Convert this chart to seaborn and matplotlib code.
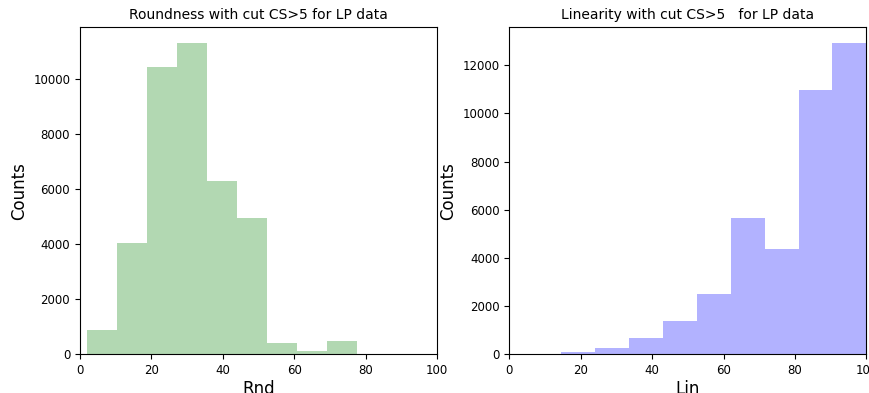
import numpy as np
import pandas as pd
import matplotlib
matplotlib.use("Agg")
import matplotlib.pyplot as plt
import seaborn as sns

# Roundness histogram: bin edges and counts
rnd_edges = [2.0, 10.4, 18.8, 27.2, 35.6, 44.0, 52.4, 60.8, 69.2, 77.6, 86.0]
rnd_counts = [860, 4020, 10440, 11310, 6280, 4960, 410, 110, 470, 20]

# Linearity histogram: bin edges and counts
lin_edges = [5.0, 14.5, 24.0, 33.5, 43.0, 52.5, 62.0, 71.5, 81.0, 90.5, 100.0]
lin_counts = [10, 85, 250, 650, 1390, 2500, 5660, 4370, 10960, 12940]

x_ticks = [0, 20, 40, 60, 80, 100]


def centers(edges):
    e = np.asarray(edges)
    return (e[:-1] + e[1:]) / 2


rnd_df = pd.DataFrame({"Rnd": centers(rnd_edges), "w": rnd_counts})
lin_df = pd.DataFrame({"Lin": centers(lin_edges), "w": lin_counts})

fig = plt.figure(figsize=(8.69, 3.93), dpi=100)
ax1 = fig.add_axes([0.092, 0.099, 0.411, 0.832])
ax2 = fig.add_axes([0.586, 0.099, 0.411, 0.832])

sns.histplot(data=rnd_df, x="Rnd", weights="w", bins=rnd_edges, ax=ax1,
             color="g", alpha=0.3, linewidth=0, element="bars")
sns.histplot(data=lin_df, x="Lin", weights="w", bins=lin_edges, ax=ax2,
             color="b", alpha=0.3, linewidth=0, element="bars")

for ax, title, xl in [
    (ax1, "Roundness with cut CS>5 for LP data", "Rnd"),
    (ax2, "Linearity with cut CS>5   for LP data", "Lin"),
]:
    ax.set_xlim(0, 100)
    ax.set_xticks(x_ticks)
    ax.set_title(title, fontsize=10)
    ax.set_xlabel(xl, fontsize=12, labelpad=2)
    ax.set_ylabel("Counts", fontsize=12)
    ax.tick_params(labelsize=8.5)

fig.savefig("out.png", dpi=100)
